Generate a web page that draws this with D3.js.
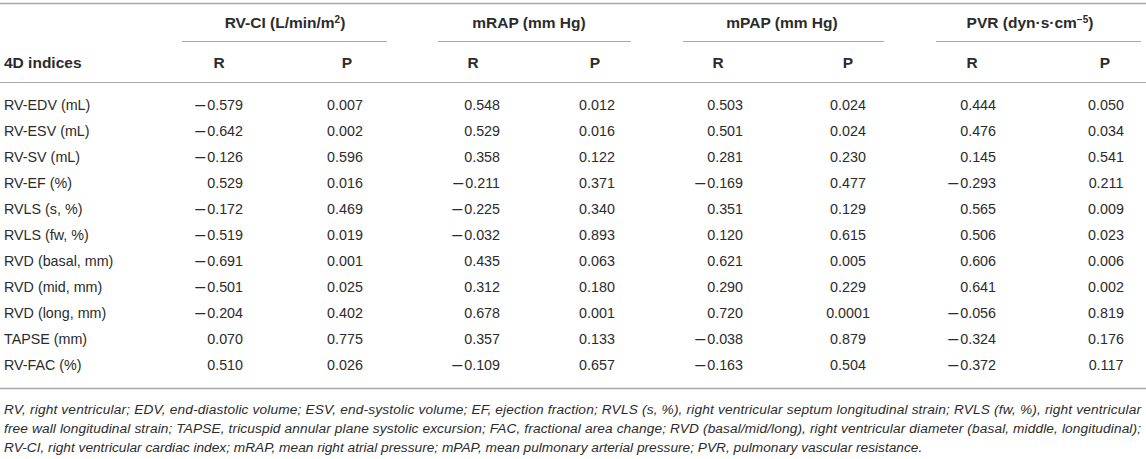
<!DOCTYPE html>
<html>
<head>
<meta charset="utf-8">
<script src="https://cdn.jsdelivr.net/npm/d3@7"></script>
<style>
  html, body { margin: 0; padding: 0; background: #fff; }
  svg { display: block; font-family: "Liberation Sans", Arial, Helvetica, sans-serif; }
</style>
</head>
<body>
<svg id="chart" width="1146" height="459"></svg>
<script>
// ---- Data ----
const indices = ["RV-EDV (mL)", "RV-ESV (mL)", "RV-SV (mL)", "RV-EF (%)", "RVLS (s, %)", "RVLS (fw, %)",
  "RVD (basal, mm)", "RVD (mid, mm)", "RVD (long, mm)", "TAPSE (mm)", "RV-FAC (%)"];
const groups = ["RV-CI", "mRAP", "mPAP", "PVR"];
const subHeaders = ["R", "P"];
const rvciR = [-0.579, -0.642, -0.126, 0.529, -0.172, -0.519, -0.691, -0.501, -0.204, 0.070, 0.510];
const rvciP = [0.007, 0.002, 0.596, 0.016, 0.469, 0.019, 0.001, 0.025, 0.402, 0.775, 0.026];
const mrapR = [0.548, 0.529, 0.358, -0.211, -0.225, -0.032, 0.435, 0.312, 0.678, 0.357, -0.109];
const mrapP = [0.012, 0.016, 0.122, 0.371, 0.340, 0.893, 0.063, 0.180, 0.001, 0.133, 0.657];
const mpapR = [0.503, 0.501, 0.281, -0.169, 0.351, 0.120, 0.621, 0.290, 0.720, -0.038, -0.163];
const mpapP = [0.024, 0.024, 0.230, 0.477, 0.129, 0.615, 0.005, 0.229, 0.0001, 0.879, 0.504];
const pvrR = [0.444, 0.476, 0.145, -0.293, 0.565, 0.506, 0.606, 0.641, -0.056, -0.324, -0.372];
const pvrP = [0.050, 0.034, 0.541, 0.211, 0.009, 0.023, 0.006, 0.002, 0.819, 0.176, 0.117];
const footnotes = [
  "RV, right ventricular; EDV, end-diastolic volume; ESV, end-systolic volume; EF, ejection fraction; RVLS (s, %), right ventricular septum longitudinal strain; RVLS (fw, %), right ventricular",
  "free wall longitudinal strain; TAPSE, tricuspid annular plane systolic excursion; FAC, fractional area change; RVD (basal/mid/long), right ventricular diameter (basal, middle, longitudinal);",
  "RV-CI, right ventricular cardiac index; mRAP, mean right atrial pressure; mPAP, mean pulmonary arterial pressure; PVR, pulmonary vascular resistance."
];

// ---- Layout ----
const svg = d3.select("#chart");
const textColor = "#2b2b2b";
const ruleColor = "#a8a8a8";
const boldSize = 15.5, bodySize = 14.3;

const groupTitles = [
  [{t: "RV-CI (L/min/m"}, {t: "2", sup: true}, {t: ")"}],
  [{t: "mRAP (mm Hg)"}],
  [{t: "mPAP (mm Hg)"}],
  [{t: "PVR (dyn·s·cm"}, {t: "−5", sup: true}, {t: ")"}]
];
const groupLine = [[182, 387], [438, 631], [683, 884], [936, 1141]];
const groupCenter = [285, 529, 782, 1030];

// column descriptors
const columns = [
  {vals: rvciR, type: "R", hx: 219, x: 243},
  {vals: rvciP, type: "P", hx: 347, x: 345},
  {vals: mrapR, type: "R", hx: 473, x: 500},
  {vals: mrapP, type: "P", hx: 595, x: 597},
  {vals: mpapR, type: "R", hx: 718, x: 743},
  {vals: mpapP, type: "P", hx: 848, x: 848},
  {vals: pvrR, type: "R", hx: 972, x: 996},
  {vals: pvrP, type: "P", hx: 1105, x: 1106}
];

const y = d3.scalePoint().domain(indices).range([105, 365]);

const fmt3 = d3.format(".3f");
const fmtP = v => v < 0.001 ? d3.format(".4f")(v) : fmt3(v);

// rules
function rule(x1, x2, yy, w) {
  svg.append("line").attr("x1", x1).attr("x2", x2).attr("y1", yy).attr("y2", yy)
    .attr("stroke", ruleColor).attr("stroke-width", w);
}
rule(0, 1146, 3.5, 1.6);
groupLine.forEach(d => rule(d[0], d[1], 41.5, 1));
rule(0, 1146, 82.5, 1);
rule(0, 1146, 388.5, 1.6);

// group titles
const gt = svg.append("g").selectAll("text").data(groupTitles).join("text")
  .attr("x", (d, i) => groupCenter[i]).attr("y", 27.5)
  .attr("text-anchor", "middle").attr("font-weight", "bold").attr("font-size", boldSize)
  .attr("fill", textColor);
gt.each(function(parts) {
  const t = d3.select(this);
  parts.forEach(p => {
    const ts = t.append("tspan").text(p.t);
    if (p.sup) ts.attr("font-size", 10).attr("baseline-shift", "super");
  });
});

// subheaders
svg.append("text").attr("x", 4).attr("y", 62).attr("dominant-baseline", "central")
  .attr("font-weight", "bold").attr("font-size", boldSize).attr("fill", textColor).text("4D indices");
svg.append("g").selectAll("text").data(columns).join("text")
  .attr("x", d => d.hx).attr("y", 62).attr("dominant-baseline", "central")
  .attr("text-anchor", "middle").attr("font-weight", "bold").attr("font-size", boldSize)
  .attr("fill", textColor).text(d => d.type);

// row labels
svg.append("g").selectAll("text").data(indices).join("text")
  .attr("x", 4).attr("y", d => y(d)).attr("dominant-baseline", "central")
  .attr("font-size", bodySize).attr("fill", textColor).text(d => d);

// cells
const colG = svg.append("g").selectAll("g").data(columns).join("g");
colG.selectAll("text").data(c => c.vals.map((v, i) => ({v, i, c}))).join("text")
  .attr("x", d => d.c.x).attr("y", d => y(indices[d.i]) + 5)
  .attr("text-anchor", d => d.c.type === "R" ? "end" : "middle")
  .attr("font-size", bodySize).attr("fill", textColor)
  .each(function(d) {
    const t = d3.select(this);
    if (d.c.type === "R") {
      if (d.v < 0) {
        t.append("tspan").attr("font-size", 18).attr("font-weight", 300).text("\u2013");
        t.append("tspan").attr("dx", 2).attr("font-size", bodySize).text(fmt3(Math.abs(d.v)));
      } else {
        t.text(fmt3(d.v));
      }
    } else {
      t.text(fmtP(d.v));
    }
  });

// footnotes
svg.append("g").selectAll("text").data(footnotes).join("text")
  .attr("x", 4).attr("y", (d, i) => 409.5 + i * 19.2).attr("dominant-baseline", "central")
  .attr("font-style", "italic").attr("font-size", 13.7).attr("fill", textColor)
  .each(function(d, i) {
    if (i < 2) d3.select(this).attr("textLength", 1137).attr("lengthAdjust", "spacing");
  })
  .text(d => d);
</script>
</body>
</html>
